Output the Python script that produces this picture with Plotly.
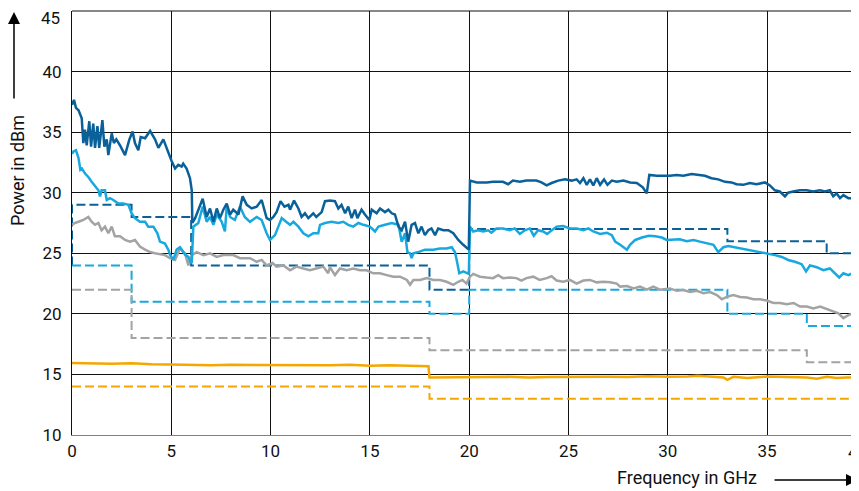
import plotly.graph_objects as go

# ---------------- data ----------------
freq_dark = [0.0, 0.1, 0.2, 0.33, 0.49, 0.57, 0.65, 0.74, 0.87, 0.96, 1.07, 1.16, 1.28, 1.37, 1.53, 1.63,
             1.75, 1.83, 2.0, 2.11, 2.23, 2.42, 2.67, 2.89, 3.05, 3.17, 3.34, 3.46, 3.68, 3.93, 4.18, 4.35,
             4.6, 4.85, 5.02, 5.19, 5.35, 5.52, 5.6, 5.77, 5.94, 6.03, 6.06, 6.2, 6.36, 6.58, 6.78, 6.95,
             7.12, 7.29, 7.45, 7.62, 7.79, 7.96, 8.12, 8.38, 8.59, 8.8, 9.05, 9.3, 9.55, 9.8, 9.97, 10.14,
             10.3, 10.5, 10.7, 10.9, 10.98, 11.18, 11.4, 11.56, 11.73, 11.9, 12.15, 12.3, 12.57, 12.74,
             12.99, 13.24, 13.41, 13.57, 13.75, 13.91, 14.08, 14.25, 14.37, 14.58, 14.75, 14.97, 15.09,
             15.34, 15.51, 15.76, 15.93, 16.1, 16.26, 16.44, 16.6, 16.77, 16.93, 17.1, 17.27, 17.44, 17.6,
             17.77, 17.94, 18.1, 18.28, 18.44, 18.7, 18.95, 19.2, 19.45, 19.7, 19.9, 19.98, 20.04, 20.38,
             20.88, 21.2, 21.7, 21.96, 22.2, 22.55, 22.88, 23.38, 23.64, 23.9, 24.15, 24.48, 24.82, 25.16,
             25.41, 25.58, 25.75, 25.92, 26.08, 26.25, 26.42, 26.59, 26.79, 26.96, 27.18, 27.43, 27.77,
             28.1, 28.44, 28.74, 28.94, 29.07, 29.44, 29.78, 30.1, 30.45, 30.78, 31.2, 31.62, 31.87, 32.2,
             32.54, 32.88, 33.21, 33.46, 33.8, 34.13, 34.47, 34.89, 35.14, 35.39, 35.64, 35.9, 36.06,
             36.31, 36.65, 36.99, 37.32, 37.66, 37.91, 38.16, 38.33, 38.5, 38.67, 38.84, 39.09, 39.35,
             39.6, 40.0]
pwr_dark = [37.25, 37.66, 37.0, 36.8, 36.15, 34.1, 35.2, 33.9, 35.9, 33.8, 35.7, 33.7, 35.5, 33.7, 36.0, 33.8,
            34.4, 33.1, 34.9, 34.1, 34.4, 33.9, 33.1, 34.4, 35.05, 34.1, 33.5, 34.6, 34.5, 35.1, 34.4, 33.7,
            34.4, 33.3, 32.6, 32.0, 32.3, 32.15, 32.4, 32.0, 31.2, 30.2, 27.5, 27.9, 28.6, 29.5, 28.0, 28.7,
            27.6, 28.7, 27.9, 28.6, 29.1, 28.2, 28.6, 28.2, 29.7, 29.0, 28.7, 28.85, 29.4, 27.9, 27.75, 28.0,
            28.4, 29.3, 28.85, 29.0, 28.6, 29.35, 28.7, 28.0, 28.3, 27.9, 28.3, 28.0, 28.4, 29.3,
            29.35, 29.3, 28.7, 29.0, 28.3, 28.85, 27.9, 28.6, 27.9, 28.6, 28.2, 27.75, 28.6,
            28.3, 28.7, 28.4, 28.6, 28.3, 28.2, 27.2, 26.9, 27.6, 25.96, 27.35, 27.5, 26.65, 27.2,
            26.5, 26.9, 27.05, 26.5, 27.05, 26.9, 26.9, 26.65, 26.1, 25.7, 25.4, 25.3, 31.0, 30.85,
            30.85, 30.9, 30.9, 30.7, 31.0, 30.9, 31.0, 31.0, 30.85, 30.6, 30.8, 31.0, 31.1, 31.0,
            31.1, 30.8, 31.2, 30.65, 31.1, 30.6, 31.2, 30.65, 31.1, 30.65, 31.0, 30.9, 31.0,
            30.85, 30.8, 30.45, 29.95, 31.47, 31.4, 31.4, 31.4, 31.47, 31.4, 31.55, 31.47, 31.4, 31.2,
            31.1, 30.9, 30.85, 30.7, 30.65, 30.8, 30.7, 30.85, 30.6, 30.2, 30.1, 29.7, 30.0,
            30.1, 30.2, 30.2, 30.1, 30.2, 30.1, 30.2, 29.7, 29.95, 29.55, 29.8, 29.55, 29.55,
            29.2, 29.0]

freq_light = [0.0, 0.07, 0.2, 0.33, 0.42, 0.5, 0.65, 0.82, 0.99, 1.16, 1.33, 1.41, 1.49, 1.66, 1.75, 1.91,
              2.08, 2.33, 2.58, 2.84, 3.0, 3.17, 3.42, 3.68, 3.84, 4.1, 4.3, 4.43, 4.68, 4.85, 4.93, 5.1,
              5.27, 5.44, 5.69, 5.86, 5.96, 6.03, 6.11, 6.36, 6.58, 6.78, 6.95, 7.12, 7.29, 7.54, 7.7,
              7.79, 7.96, 8.2, 8.46, 8.7, 8.96, 9.3, 9.55, 9.8, 9.97, 10.22, 10.39, 10.56, 10.78, 10.98,
              11.15, 11.4, 11.65, 11.9, 12.15, 12.4, 12.49, 12.74, 13.07, 13.41, 13.66, 13.91, 14.16,
              14.42, 14.67, 15.0, 15.26, 15.43, 15.76, 16.1, 16.44, 16.6, 16.77, 16.89, 17.02, 17.1,
              17.19, 17.44, 17.77, 18.19, 18.53, 18.86, 19.12, 19.28, 19.37, 19.5, 19.7, 19.9, 19.98,
              20.04, 20.2, 20.45, 20.7, 20.95, 21.12, 21.37, 21.7, 22.04, 22.29, 22.55, 22.8, 23.05,
              23.25, 23.47, 23.72, 23.92, 24.15, 24.4, 24.73, 25.07, 25.41, 25.75, 26.0, 26.25, 26.59,
              26.93, 27.18, 27.35, 27.6, 27.77, 27.94, 28.1, 28.36, 28.7, 29.04, 29.37, 29.7, 29.94,
              30.28, 30.61, 30.95, 31.29, 31.62, 31.96, 32.3, 32.54, 32.8, 33.05, 33.38, 33.72, 34.06,
              34.39, 34.73, 35.06, 35.4, 35.74, 36.06, 36.4, 36.74, 36.96, 37.16, 37.5, 37.83, 38.16,
              38.42, 38.63, 38.84, 39.09, 39.35, 39.6, 40.0]
pwr_light = [33.2, 33.4, 33.5, 32.85, 31.9, 32.0, 31.6, 31.3, 30.9, 30.5, 30.2, 29.7, 30.2, 30.2, 29.4, 29.55,
             29.4, 29.1, 29.1, 29.0, 28.3, 27.9, 27.6, 27.6, 27.2, 27.2, 26.65, 25.96, 25.8, 25.3, 24.9, 24.45,
             25.3, 25.5, 24.9, 24.7, 24.3, 24.2, 27.2, 27.5, 28.85, 27.6, 28.0, 27.35, 28.2, 27.6, 26.8,
             28.85, 28.0, 27.75, 28.85, 28.0, 27.6, 28.0, 27.75, 26.65, 26.1, 26.5, 27.2, 27.9, 27.6, 27.35,
             27.6, 27.2, 26.65, 26.4, 26.65, 26.65, 27.35, 27.5, 27.6, 27.5, 27.6, 27.35, 27.2,
             27.5, 27.35, 27.2, 26.8, 27.2, 27.35, 27.5, 27.35, 25.96, 26.65, 25.1, 25.0, 24.6,
             25.0, 25.1, 25.3, 25.3, 25.4, 25.4, 25.5, 25.1, 24.45, 23.35, 23.5, 23.35, 23.3,
             27.2, 26.8, 26.9, 26.8, 26.9, 26.7, 27.05, 27.05, 26.9, 27.05, 26.6, 26.9, 27.05,
             26.45, 26.9, 26.8, 26.6, 26.9, 27.2, 27.25, 27.05, 27.05, 26.9, 27.05, 26.8, 26.6,
             26.7, 26.5, 25.96, 25.7, 25.5, 25.3, 25.7, 26.1, 26.3, 26.45, 26.4, 26.3, 26.1,
             26.1, 26.15, 26.0, 26.1, 25.96, 25.8, 25.7, 25.1, 25.5, 25.6, 25.5, 25.4, 25.3,
             25.2, 25.1, 24.95, 24.85, 24.7, 24.45, 24.3, 24.1, 23.5, 24.0, 23.85, 23.6, 23.75,
             23.35, 23.0, 23.35, 23.2, 23.4, 23.3, 23.2]

freq_gray = [0.0, 0.15, 0.33, 0.57, 0.82, 0.99, 1.16, 1.33, 1.49, 1.66, 1.83, 2.0, 2.16, 2.42, 2.67, 2.92,
             3.17, 3.42, 3.68, 3.93, 4.18, 4.43, 4.68, 4.93, 5.19, 5.44, 5.69, 5.86, 6.03, 6.28, 6.62,
             6.95, 7.29, 7.62, 8.12, 8.46, 8.96, 9.3, 9.55, 9.8, 10.1, 10.3, 10.64, 10.98, 11.3, 11.65,
             11.98, 12.3, 12.65, 12.9, 12.99, 13.24, 13.49, 13.83, 14.16, 14.5, 14.83, 15.17, 15.5,
             15.85, 16.18, 16.52, 16.86, 17.02, 17.19, 17.52, 17.87, 18.19, 18.53, 18.86, 19.2, 19.45,
             19.66, 19.86, 20.04, 20.2, 20.54, 20.88, 21.2, 21.46, 21.7, 22.04, 22.38, 22.63, 22.88,
             23.22, 23.55, 23.9, 24.15, 24.4, 24.73, 25.07, 25.41, 25.75, 26.08, 26.42, 26.76, 27.1,
             27.43, 27.6, 27.94, 28.27, 28.6, 28.94, 29.27, 29.6, 30.11, 30.45, 30.78, 31.12, 31.46,
             31.79, 32.13, 32.47, 32.72, 32.97, 33.3, 33.64, 33.98, 34.31, 34.65, 34.98, 35.32, 35.65,
             35.99, 36.33, 36.66, 37.0, 37.33, 37.67, 38.0, 38.34, 38.59, 38.84, 39.09, 39.35, 39.6, 40.0]
pwr_gray = [27.35, 27.5, 27.6, 27.75, 28.0, 27.6, 27.35, 27.5, 26.9, 27.2, 26.65, 27.2, 26.4, 26.4, 26.1, 25.96,
            26.1, 25.55, 25.3, 25.1, 25.0, 24.95, 24.85, 24.6, 24.45, 25.4, 25.0, 24.0, 24.85, 25.1, 24.85,
            25.0, 24.7, 24.85, 24.85, 24.6, 24.6, 24.3, 24.45, 24.0, 24.2, 23.9, 24.0, 23.6, 23.9, 23.75,
            23.6, 23.75, 23.9, 23.35, 23.85, 23.2, 23.75, 23.6, 23.75, 23.6, 23.6, 23.35, 23.35,
            23.2, 23.07, 23.07, 22.8, 22.4, 22.8, 22.8, 22.95, 22.8, 22.8, 22.65, 22.4, 22.65,
            22.8, 22.5, 23.07, 23.3, 23.07, 23.0, 22.95, 23.2, 22.95, 23.0, 22.95, 22.75, 22.95,
            23.07, 22.8, 22.95, 23.1, 22.75, 22.65, 22.8, 22.5, 22.75, 22.8, 22.6, 22.65, 22.6,
            22.5, 22.25, 22.3, 22.1, 22.25, 22.0, 22.25, 22.0, 22.1, 21.9, 21.97, 21.8, 21.9,
            21.7, 21.8, 21.55, 21.2, 21.4, 21.55, 21.4, 21.35, 21.2, 21.2, 21.1, 20.9, 20.9,
            20.8, 20.9, 20.6, 20.6, 20.45, 20.6, 20.4, 20.2, 20.05, 19.65, 19.9, 20.05, 20.2, 20.1]

freq_orange = [0.0, 0.5, 1.0, 2.0, 3.0, 3.5, 4.0, 5.0, 6.0, 7.0, 8.0, 9.0, 10.0, 11.0, 12.0, 13.0, 14.0,
               15.0, 16.0, 17.0, 17.95, 18.0, 19.0, 20.0, 21.0, 22.0, 23.0, 24.0, 25.0, 26.0, 27.0, 28.0,
               29.0, 30.0, 31.0, 31.5, 32.0, 32.8, 33.0, 33.3, 34.0, 35.0, 36.0, 37.0, 37.5, 38.0, 38.5,
               39.0, 40.0]
pwr_orange = [15.95, 15.92, 15.9, 15.88, 15.92, 15.85, 15.83, 15.82, 15.8, 15.75, 15.8, 15.78, 15.8, 15.75,
              15.78, 15.75, 15.8, 15.72, 15.75, 15.7, 15.68, 14.75, 14.78, 14.8, 14.78, 14.8, 14.75, 14.78,
              14.8, 14.78, 14.8, 14.78, 14.85, 14.8, 14.82, 14.9, 14.85, 14.75, 14.55, 14.8, 14.7, 14.82,
              14.78, 14.75, 14.65, 14.8, 14.7, 14.75, 14.7]

# limit (dashed step) lines
lim_dark_f = [0, 0, 3, 6, 18, 20, 33, 38, 40]
lim_dark_p = [24, 29, 28, 24, 22, 27, 26, 25, 25]
lim_light_f = [0, 3, 18, 20, 33, 37, 40]
lim_light_p = [24, 21, 20, 22, 20, 19, 19]
lim_gray_f = [0, 3, 18, 37, 40]
lim_gray_p = [22, 18, 17, 16, 16]
lim_orange_f = [0, 18, 40]
lim_orange_p = [14, 13, 13]

x_ticks = [0, 5, 10, 15, 20, 25, 30, 35]
y_ticks = [10, 15, 20, 25, 30, 35, 40, 45]
y_tick_labels = ["10", "15", "20", "25", "30", "35", "40", ""]   # "45" is drawn separately, nudged down
x_last_label = "40"
y_top_label = "45"

# ---------------- style ----------------
C_DARK = "#0a6199"
C_LIGHT = "#17a8e0"
C_GRAY = "#a3a3a3"
C_ORANGE = "#f5a700"
FONT = "Roboto, Liberation Sans, sans-serif"

OFF = 8                      # page body margin of the html page
PAGE_W, PAGE_H = 859, 491
W, H = PAGE_W - OFF, PAGE_H - OFF
PL, PT, PB = 72, 11, 435     # plot box in page pixels
L, T = PL - OFF, PT - OFF
B = H - (PB - OFF)
px_per_ghz = 19.86
x_max = (PAGE_W - PL) / px_per_ghz

fig = go.Figure()

for f, p, c in [(lim_dark_f, lim_dark_p, C_DARK), (lim_light_f, lim_light_p, C_LIGHT),
                (lim_gray_f, lim_gray_p, C_GRAY), (lim_orange_f, lim_orange_p, C_ORANGE)]:
    fig.add_trace(go.Scatter(x=f, y=p, mode="lines", line=dict(color=c, width=2, dash="9px,4px", shape="hv"),
                             hoverinfo="skip", showlegend=False))

for f, p, c in [(freq_gray, pwr_gray, C_GRAY), (freq_light, pwr_light, C_LIGHT),
                (freq_dark, pwr_dark, C_DARK), (freq_orange, pwr_orange, C_ORANGE)]:
    fig.add_trace(go.Scatter(x=f, y=p, mode="lines", line=dict(color=c, width=2.5),
                             hoverinfo="skip", showlegend=False))

plot_w = W - L
plot_h = H - T - B

def px_x(px):          # page pixel -> paper x
    return (px - PL) / plot_w

def px_y(py):          # page pixel -> paper y
    return (PB - py) / plot_h

annotations = [
    dict(text=x_last_label, xref="paper", yref="paper", x=px_x(857), y=px_y(452), xanchor="center",
         yanchor="middle", showarrow=False, font=dict(family=FONT, size=17, color="#111")),
    dict(text=y_top_label, xref="paper", yref="paper", x=px_x(62), y=px_y(18), xanchor="right",
         yanchor="middle", showarrow=False, font=dict(family=FONT, size=17, color="#111")),
    dict(text="Power in dBm", xref="paper", yref="paper", x=px_x(17), y=px_y(171), textangle=-90,
         xanchor="center", yanchor="middle", showarrow=False, font=dict(family=FONT, size=18, color="#111")),
    dict(text="Frequency in GHz", xref="paper", yref="paper", x=px_x(687), y=px_y(477),
         xanchor="center", yanchor="middle", showarrow=False, font=dict(family=FONT, size=18, color="#111")),
    dict(text="", xref="paper", yref="paper", x=px_x(14), y=px_y(12), ax=0, ay=88,
         showarrow=True, arrowhead=2, arrowsize=1.6, arrowwidth=1.5, arrowcolor="#000"),
    dict(text="", xref="paper", yref="paper", x=px_x(858), y=px_y(480), ax=-85, ay=0,
         showarrow=True, arrowhead=2, arrowsize=1.6, arrowwidth=1.5, arrowcolor="#000"),
]

fig.update_layout(
    width=W, height=H,
    margin=dict(l=L, r=0, t=T, b=B, pad=0, autoexpand=False),
    paper_bgcolor="white", plot_bgcolor="white",
    font=dict(family=FONT, size=17, color="#111"),
    annotations=annotations,
    shapes=[dict(type="line", xref="paper", yref="paper", x0=0, x1=1, y0=1, y1=1,
                 line=dict(color="#111", width=1), layer="above")],
    xaxis=dict(range=[0, x_max], tickmode="array", tickvals=x_ticks, ticktext=[str(v) for v in x_ticks],
               showgrid=True, gridcolor="#111", gridwidth=1, zeroline=False, automargin=False,
               showline=True, linecolor="#808080", linewidth=1, ticks="", ticklabelstandoff=1,
               ticklabeloverflow="allow",
               tickfont=dict(family=FONT, size=17, color="#111")),
    yaxis=dict(range=[10, 45], tickmode="array", tickvals=y_ticks, ticktext=y_tick_labels,
               showgrid=True, gridcolor="#111", gridwidth=1, zeroline=False, automargin=False,
               showline=True, linecolor="#111", linewidth=1, ticks="", ticklabelstandoff=6,
               ticklabeloverflow="allow",
               tickfont=dict(family=FONT, size=17, color="#111")),
)

fig.write_html("out.html")
